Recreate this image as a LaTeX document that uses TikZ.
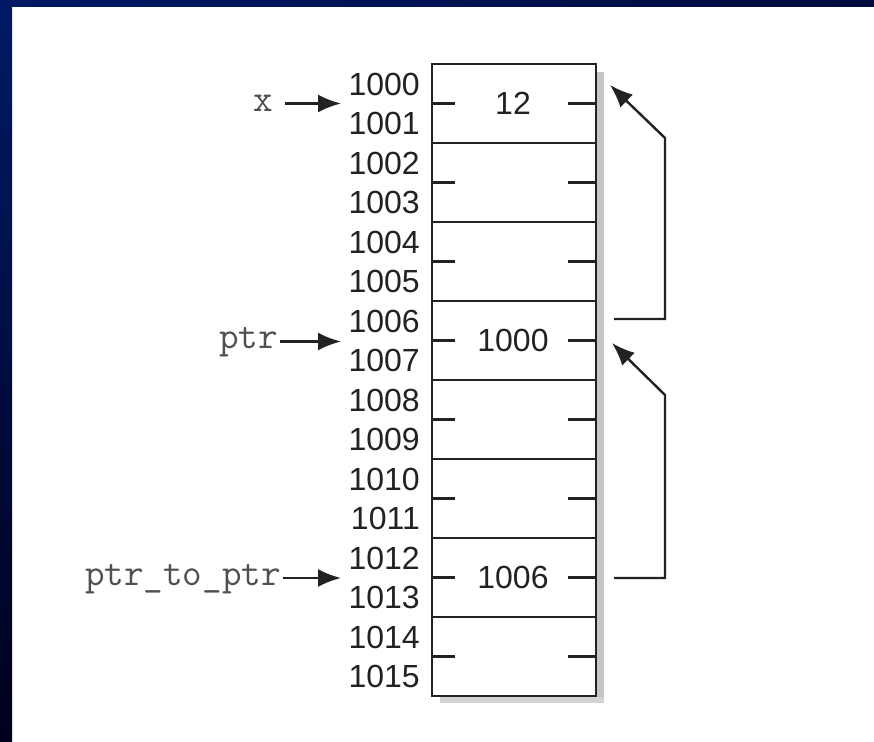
\documentclass[tikz,border=0pt]{standalone}
\usepackage{fontspec}
\setmainfont{Liberation Sans}
\usetikzlibrary{arrows.meta}
\definecolor{frameA}{HTML}{001A66}
\definecolor{frameB}{HTML}{000A3C}
\definecolor{frameC}{HTML}{00001C}
\definecolor{ink}{HTML}{222222}
\definecolor{labink}{HTML}{505050}
\begin{document}
\begin{tikzpicture}[x=1pt,y=-1pt,
  box/.style={draw=ink,line width=2.8pt},
  tick/.style={draw=ink,line width=2.8pt},
  addr/.style={anchor=east,inner sep=0pt,font=\fontsize{32}{32}\selectfont,text=ink},
  val/.style={inner sep=0pt,font=\fontsize{32}{32}\selectfont,text=ink},
  plab/.style={anchor=base east,inner sep=0pt,font=\ttfamily\fontsize{38}{38}\selectfont,text=labink},
  arr/.style={draw=ink,line width=2.4pt,-{Latex[length=23pt,width=18pt]}},
  link/.style={draw=ink,line width=2.4pt,-{Latex[length=23pt,width=18pt]},line join=miter}]
\useasboundingbox (0,0) rectangle (874,741);
\fill[white] (0,0) rectangle (874,741);
% frame
\shade[left color=frameA,right color=frameB] (0,0) rectangle (874,7);
\shade[top color=frameA,bottom color=frameC] (0,0) rectangle (12,741);
% shadow
\fill[gray!45] (597,72) rectangle (604,703);
\fill[gray!35] (440,697) rectangle (604,703);
% memory cells
\foreach \i in {0,...,7}{
  \pgfmathsetmacro{\top}{64+79*\i}
  \pgfmathsetmacro{\bot}{64+79*(\i+1)}
  \pgfmathsetmacro{\mid}{64+79*\i+39.5}
  \fill[white] (432,\top) rectangle (596,\bot);
  \draw[box] (432,\top) rectangle (596,\bot);
  \draw[tick] (432,\mid) -- (455,\mid);
  \draw[tick] (568,\mid) -- (596,\mid);
}
% addresses
\foreach \i [evaluate=\i as \n using int(1000+\i)] in {0,...,15}{
  \pgfmathsetmacro{\yy}{64+39.5*\i+20}
  \node[addr] (a\n) at (420,\yy) {\n};
}
% values
\node[val] (v0) at (513,103.5) {12};
\node[val] (v3) at (513,340.5) {1000};
\node[val] (v6) at (513,577.5) {1006};
% pointer labels
\node[plab] (lx) at (273,111) {x};
\node[plab] (lptr) at (278,348) {ptr};
\node[plab] (lpp) at (281,585) {ptr\_to\_ptr};
\coordinate (t0) at (341,103.5);
\coordinate (t3) at (341,341.5);
\coordinate (t6) at (341,578);
\draw[arr] ([xshift=12pt]lx.base east) ++(0,-7.5) -- (t0);
\draw[arr] ([xshift=2pt]lptr.base east) ++(0,-6.5) -- (t3);
\draw[arr] ([xshift=2pt]lpp.base east) ++(0,-7) -- (t6);
% links
\coordinate (s3) at (614,319);
\coordinate (e0) at (610,85);
\coordinate (s6) at (614,578);
\coordinate (e3) at (612,343);
\draw[link] (s3) -- (665,319) -- (665,138) -- (e0);
\draw[link] (s6) -- (665,578) -- (665,395) -- (e3);
\end{tikzpicture}
\end{document}
